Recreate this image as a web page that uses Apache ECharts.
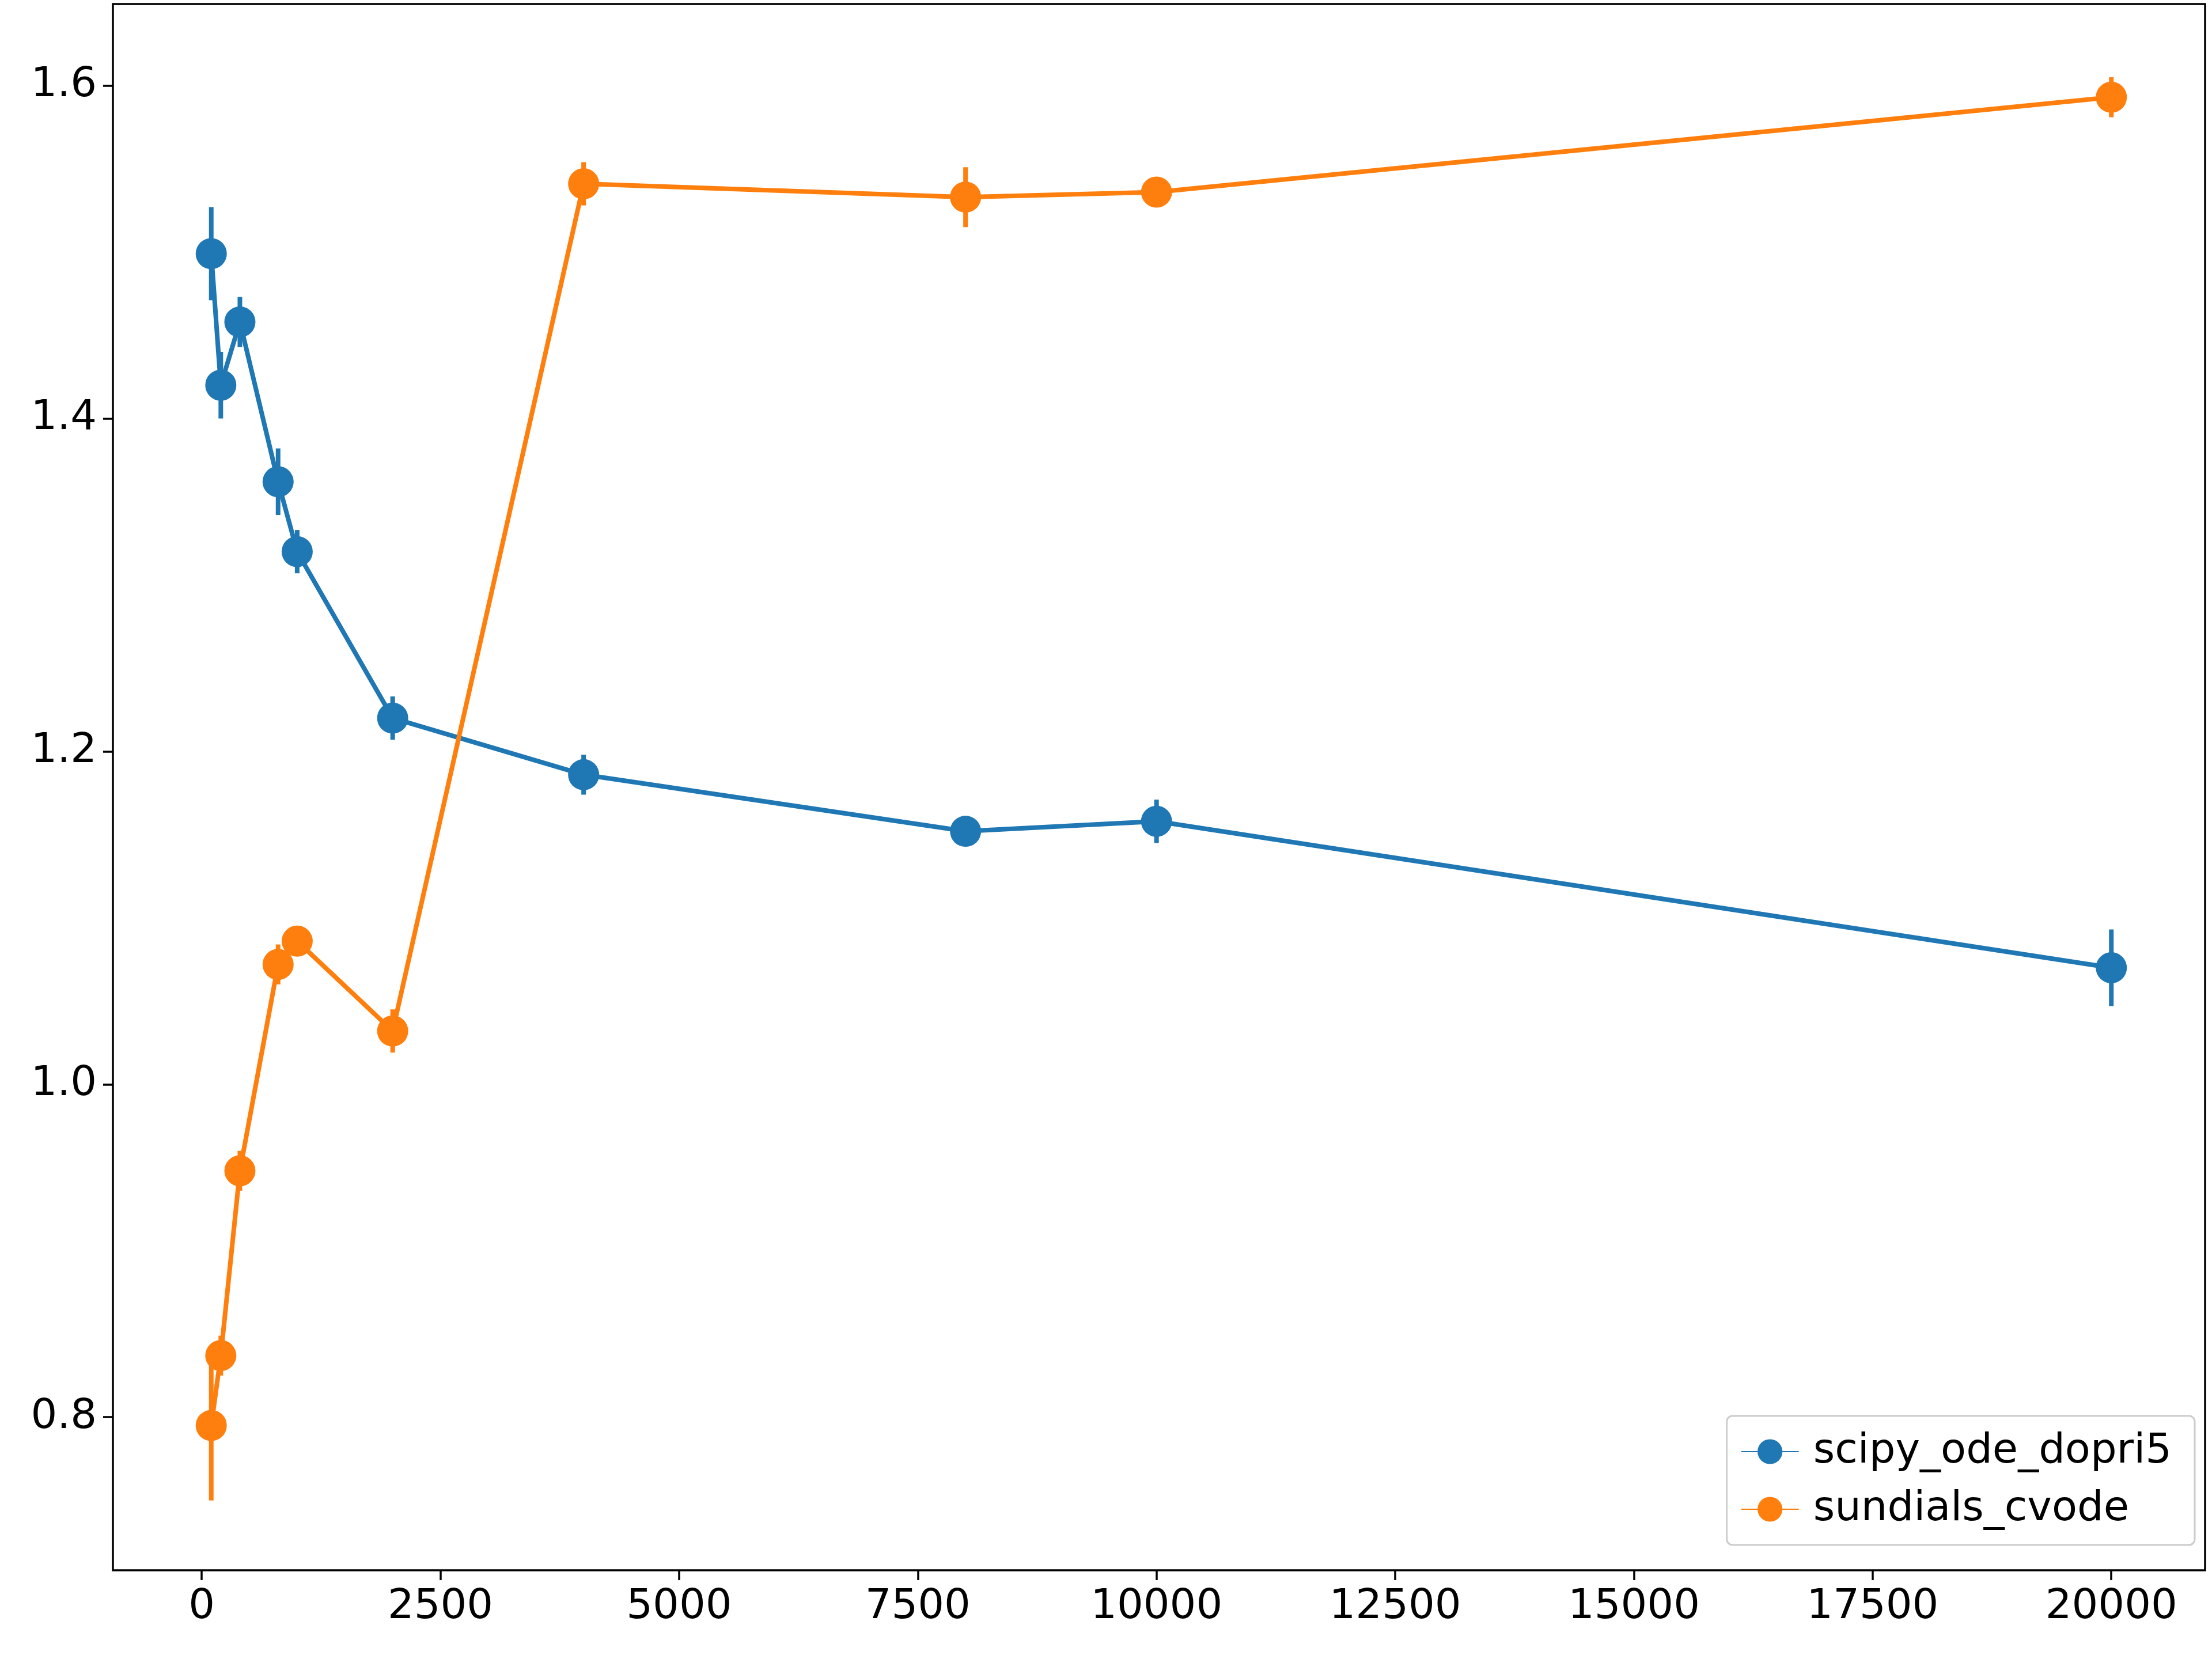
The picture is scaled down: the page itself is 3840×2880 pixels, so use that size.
<!DOCTYPE html>
<html><head><meta charset="utf-8">
<script src="https://cdn.jsdelivr.net/npm/echarts@6/dist/echarts.min.js"></script>
<style>html,body{margin:0;padding:0;background:#fff}#c{width:3840px;height:2880px}</style>
</head><body><div id="c"></div>
<script>
const xs = [100,200,400,800,1000,2000,4000,8000,10000,20000];
const blueY = [1.499,1.420,1.458,1.362,1.320,1.220,1.186,1.152,1.158,1.070];
const blueErr = [0.028,0.020,0.015,0.020,0.013,0.013,0.012,0.005,0.013,0.023];
const orangeY = [0.795,0.837,0.948,1.072,1.086,1.032,1.541,1.533,1.536,1.593];
const orangeErr = [0.045,0.012,0.012,0.012,0.008,0.013,0.013,0.018,0.005,0.012];
const xTicks = [0,2500,5000,7500,10000,12500,15000,17500,20000];
const yTicks = [0.8,1.0,1.2,1.4,1.6];
const BLUE='#1f77b4', ORANGE='#ff7f0e';
const font='DejaVu Sans';
function errSeries(name,color,ys,es){
  return {type:'custom',name:name+'_err',z:3,silent:true,
    data: xs.map((x,i)=>[x,ys[i]-es[i],ys[i]+es[i]]),
    renderItem:(p,api)=>{const a=api.coord([api.value(0),api.value(1)]),b=api.coord([api.value(0),api.value(2)]);
      return {type:'line',shape:{x1:a[0],y1:a[1],x2:b[0],y2:b[1]},style:{stroke:color,lineWidth:8}};}};
}
function lineSeries(name,color,ys){
  return {type:'line',name:name,z:4,data:xs.map((x,i)=>[x,ys[i]]),symbol:'circle',symbolSize:54,
    lineStyle:{color:color,width:8},itemStyle:{color:color},animation:false};
}
const chart=echarts.init(document.getElementById('c'));
chart.setOption({
  animation:false,
  grid:{left:196,right:12,top:7,bottom:154,show:true,borderColor:'#000',borderWidth:3.5,backgroundColor:'transparent'},
  xAxis:{type:'value',min:-930,max:20982,interval:2500,
    axisLine:{show:false,onZero:false},splitLine:{show:false},
    axisTick:{show:true,length:17,lineStyle:{color:'#000',width:3.5},customValues:xTicks},
    axisLabel:{fontFamily:font,fontSize:72,color:'#000',margin:28,customValues:xTicks,formatter:v=>String(v)}},
  yAxis:{type:'value',min:0.708,max:1.649,
    axisLine:{show:false,onZero:false},splitLine:{show:false},
    axisTick:{show:true,length:17,lineStyle:{color:'#000',width:3.5},customValues:yTicks},
    axisLabel:{fontFamily:font,fontSize:72,color:'#000',margin:28,customValues:yTicks,formatter:v=>v.toFixed(1)}},
  legend:{data:['scipy_ode_dopri5','sundials_cvode'],orient:'vertical',right:30,bottom:198,
    backgroundColor:'#fff',borderColor:'#cccccc',borderWidth:3,borderRadius:10,padding:[26,40,26,24],
    itemGap:28,itemWidth:100,itemHeight:54,textStyle:{fontFamily:font,fontSize:72,color:'#000',padding:[0,0,0,20]}},
  series:[errSeries('scipy_ode_dopri5',BLUE,blueY,blueErr),lineSeries('scipy_ode_dopri5',BLUE,blueY),
          errSeries('sundials_cvode',ORANGE,orangeY,orangeErr),lineSeries('sundials_cvode',ORANGE,orangeY)]
});
</script></body></html>
